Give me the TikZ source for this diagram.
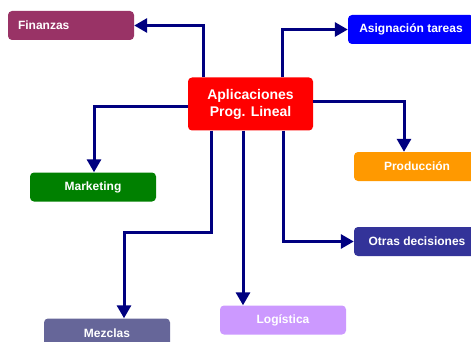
\documentclass[tikz,border=0pt]{standalone}
\usepackage{fontspec}
\setmainfont{Liberation Sans}
\usetikzlibrary{arrows.meta}
\definecolor{navyline}{HTML}{000080}
\definecolor{fincol}{HTML}{993366}
\definecolor{asigcol}{HTML}{0000FF}
\definecolor{prodcol}{HTML}{FF9900}
\definecolor{otrascol}{HTML}{333399}
\definecolor{logcol}{HTML}{CC99FF}
\definecolor{mktcol}{HTML}{008000}
\definecolor{mezcol}{HTML}{666699}
\begin{document}
\begin{tikzpicture}
				[x=1pt, y=-1pt,
				box/.style = {rounded corners=4pt, text=white,
				font=\fontsize{12}{14}\selectfont\bfseries,
				minimum width=126pt, minimum height=29pt, inner sep=0pt},
				link/.style = {draw=navyline, line width=3pt,
				-{Triangle[length=13pt,width=14pt]}}]
				\useasboundingbox (0,0) rectangle (471,342);
				\clip (0,0) rectangle (471,342);
				\fill[white] (0,0) rectangle (471,342);
				% centre
				\node[box, fill=red, minimum width=125pt, minimum height=53pt,
				align=center, font=\fontsize{14}{17}\selectfont\bfseries]
				(apl) at (250.5,104) {Aplicaciones\\Prog. Lineal};
				% the applications
				\node[box, fill=fincol, text width=106pt, inner xsep=10pt,
				align=left] (fin) at (71,25.5) {Finanzas};
				\node[box, fill=asigcol] (asig) at (411,29.5) {Asignación tareas};
				\node[box, fill=prodcol] (prod) at (417,166.5) {Producción};
				\node[box, fill=otrascol] (otras) at (417,241.5) {Otras decisiones};
				\node[box, fill=logcol] (log) at (283,320) {Logística};
				\node[box, fill=mktcol] (mkt) at (93,187) {Marketing};
				\node[box, fill=mezcol] (mez) at (107,333) {Mezclas};
				% connectors
				\draw[link] (apl.north -| 203,0) |- (fin.east);
				\draw[link] (apl.north -| 282,0) |- (asig.west);
				\draw[link] (apl.east |- 0,102) -| (prod.north -| 404,0);
				\draw[link] (apl.south -| 283,0) |- (otras.west);
				\draw[link] (apl.south -| 243,0) -- (log.north -| 243,0);
				\draw[link] (apl.west |- 0,107) -| (mkt.north -| 94,0);
				\draw[link] (apl.south -| 211,0) -- ++(0,101.5) -| (mez.north -| 124,0);
			\end{tikzpicture}
\end{document}
